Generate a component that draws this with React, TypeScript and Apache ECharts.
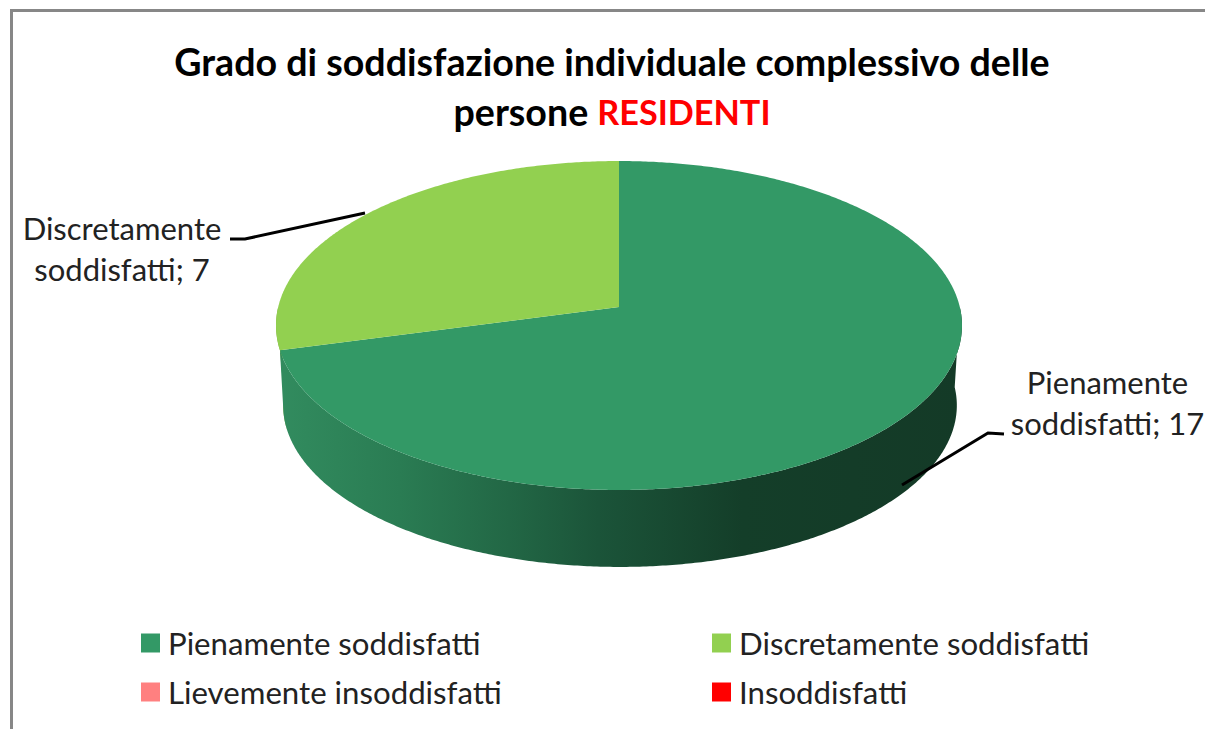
import React, { useEffect, useRef } from "react";
import * as echarts from "echarts";

const categories = ["Pienamente soddisfatti", "Discretamente soddisfatti", "Lievemente insoddisfatti", "Insoddisfatti"];
const values = [17, 7, 0, 0];
const colors = ["#339966", "#92D050", "#FF8080", "#FF0000"];
const titleLines = ["Grado di soddisfazione individuale complessivo delle", "persone "];
const titleAccent = "RESIDENTI";

const FONT = "Lato, Carlito, Calibri, sans-serif";
const LABEL_SIZE = 31;
const LEGEND_SIZE = 31.2;
const TITLE_SIZE = 37.6;
const ACCENT_SIZE = 34.2;
const BASE_SKEW = 6;

// Perspective projection of a unit disc on to the screen
const disc = { cx: 619, cy: 307, bx: 340.8, by: 162.4, k: 0.1125 };
const base = { cx: 620, cy: 387.2, bx: 334.7, by: 159.5, k: 0.1125 };
const project = (p: typeof disc, deg: number) => {
  const t = (deg * Math.PI) / 180;
  const u = Math.sin(t);
  const v = Math.cos(t);
  const w = 1 + p.k * v;
  return [p.cx + (p.bx * u) / w, p.cy - (p.by * v) / w];
};
const arc = (p: typeof disc, a: number, b: number) => {
  const n = Math.max(2, Math.ceil(Math.abs(b - a) * 2));
  const out: number[][] = [];
  for (let i = 0; i <= n; i++) out.push(project(p, a + ((b - a) * i) / n));
  return out;
};

const wallColor: any[] = [
  new echarts.graphic.LinearGradient(
    276, 0, 962, 0,
    [
      { offset: 0, color: "#328c5f" },
      { offset: 0.18, color: "#2a7c53" },
      { offset: 0.34, color: "#226745" },
      { offset: 0.47, color: "#1b5439" },
      { offset: 0.68, color: "#143e29" },
      { offset: 1, color: "#143a27" },
    ],
    true
  ),
  "#7FA83F",
  "#B36060",
  "#B30000",
];

const labelLayout: Record<number, { x: number; y: number; line: number[][] }> = {
  0: { x: 1107.5, y: 402.5, line: [[1004, 434], [988, 433], [902, 485]] },
  1: { x: 122, y: 248, line: [[230, 239], [245, 239], [365, 213]] },
};

const total = values.reduce((s, v) => s + v, 0);

const makeRender = (idx: number) => () => {
  const value = values[idx];
  if (!value) return null;
  const before = values.slice(0, idx).reduce((s, v) => s + v, 0);
  const start = (before / total) * 360;
  const end = ((before + value) / total) * 360;
  const children: any[] = [];
  const wallStart = Math.max(start, 90);
  const wallEnd = Math.min(end, 270);
  const wallBaseEnd = Math.min(end + BASE_SKEW, 270);
  if (wallEnd > wallStart) {
    children.push({
      type: "polygon",
      z2: 5 - idx,
      shape: { points: [...arc(disc, wallStart, wallEnd), ...arc(base, wallBaseEnd, wallStart)] },
      style: { fill: wallColor[idx] },
    });
  }
  children.push({
    type: "polygon",
    z2: 10,
    shape: { points: [[disc.cx, disc.cy], ...arc(disc, start, end)] },
    style: { fill: colors[idx] },
  });
  const lay = labelLayout[idx];
  if (lay) {
    const parts = categories[idx].split(" ");
    children.push({
      type: "polyline",
      z2: 20,
      shape: { points: lay.line },
      style: { stroke: "#000", lineWidth: 3, fill: "none" },
    });
    children.push({
      type: "text",
      z2: 20,
      style: {
        x: lay.x,
        y: lay.y,
        text: `${parts[0]}\n${parts[1]}; ${value}`,
        fill: "#222",
        font: `${LABEL_SIZE}px ${FONT}`,
        lineHeight: 41,
        align: "center",
        verticalAlign: "middle",
      },
    });
  }
  return { type: "group", children };
};

export default function App() {
  const ref = useRef<HTMLDivElement>(null);
  useEffect(() => {
    document.body.style.margin = "0";
    const chart = echarts.init(ref.current!, undefined, { renderer: "svg" });
    const legendBase = {
      orient: "vertical",
      icon: "rect",
      itemWidth: 19,
      itemHeight: 19,
      itemGap: 13,
      selectedMode: false,
      padding: 0,
      textStyle: { fontFamily: FONT, fontSize: LEGEND_SIZE, color: "#222", lineHeight: 34, padding: [2, 0, 0, 3] },
    };
    chart.setOption({
      animation: false,
      backgroundColor: "#fff",
      title: {
        text: `${titleLines[0]}\n${titleLines[1]}{r|${titleAccent}}`,
        left: 612,
        top: 36,
        textAlign: "center",
        padding: 0,
        textStyle: {
          fontFamily: FONT,
          fontSize: TITLE_SIZE,
          fontWeight: "bold",
          color: "#000",
          lineHeight: 50,
          rich: { r: { fontFamily: FONT, fontSize: ACCENT_SIZE, fontWeight: "bold", color: "#FF0000", lineHeight: 50 } },
        },
      },
      legend: [
        { ...legendBase, left: 141, top: 625, data: [categories[0], categories[2]] },
        { ...legendBase, left: 712, top: 625, data: [categories[1], categories[3]] },
      ],
      graphic: [
        {
          type: "polyline",
          shape: { points: [[11.5, 729], [11.5, 10.5], [1205, 10.5]] },
          style: { stroke: "#878787", lineWidth: 3, fill: "none" },
        },
      ],
      series: categories.map((name, i) => ({
        type: "custom",
        name,
        coordinateSystem: "none",
        silent: true,
        itemStyle: { color: colors[i] },
        data: [[values[i]]],
        renderItem: makeRender(i),
      })),
    });
    return () => chart.dispose();
  }, []);
  return <div ref={ref} style={{ position: "absolute", left: 0, top: 0, width: 1205, height: 729 }} />;
}
